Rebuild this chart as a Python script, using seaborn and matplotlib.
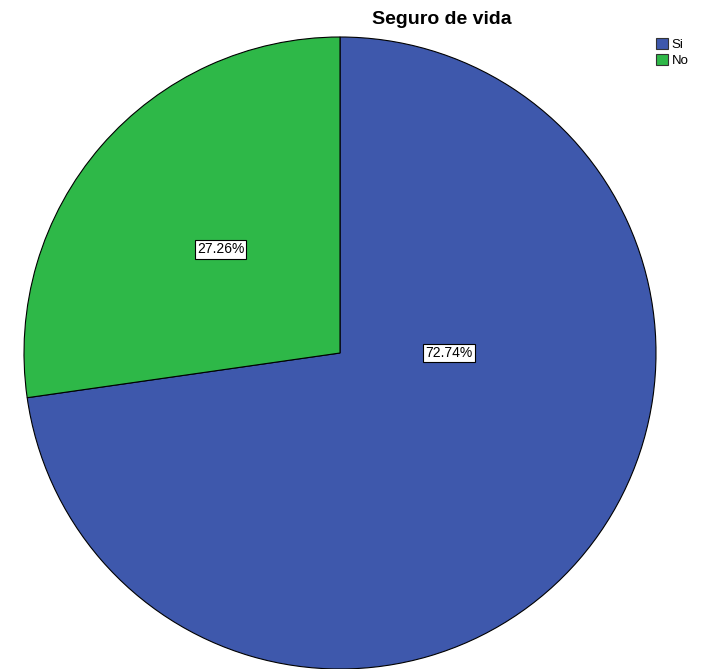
import matplotlib
matplotlib.use("Agg")
import matplotlib.pyplot as plt
import seaborn as sns
from matplotlib.patches import Patch

sns.set_theme(style="white")
plt.rcParams['font.family'] = ['Liberation Sans', 'DejaVu Sans']
plt.rcParams['text.color'] = 'black'

categories = ["Si", "No"]
values = [72.74, 27.26]
colors = ["#3E58AC", "#2EB848"]
title = "Seguro de vida"

fig = plt.figure(figsize=(7.04, 6.69), dpi=100)
ax = fig.add_axes([24/704, 0/669, 632/704, 632/669])

wedges, texts, autotexts = ax.pie(
    values, colors=colors, startangle=90, counterclock=False,
    autopct=lambda p: f"{p:.2f}%", pctdistance=0.5,
    wedgeprops=dict(edgecolor="black", linewidth=0.8),
    textprops=dict(fontsize=10, color="black"))
for t in autotexts:
    t.set_bbox(dict(facecolor="white", edgecolor="black", boxstyle="square,pad=0.15", linewidth=0.8))
# SPSS places the larger label near the horizontal axis
autotexts[0].set_position((0.345, 0.0))
ax.set_xlim(-1, 1)
ax.set_ylim(-1, 1)
ax.set_aspect("equal")
ax.axis("off")

fig.text(442/704, 1 - 19/669, title, ha="center", va="center", fontsize=14, fontweight="bold", color="black")

handles = [Patch(facecolor=c, edgecolor="#333333", linewidth=0.8, label=l) for c, l in zip(colors, categories)]
leg = fig.legend(handles=handles, loc="upper left", bbox_to_anchor=(653/704, 1 - 35/669),
           frameon=False, fontsize=9.5, handlelength=0.9, handleheight=0.9,
           handletextpad=0.3, labelspacing=0.25, borderaxespad=0, borderpad=0.2)
for t in leg.get_texts():
    t.set_color("black")

fig.savefig("out.png", dpi=100)
